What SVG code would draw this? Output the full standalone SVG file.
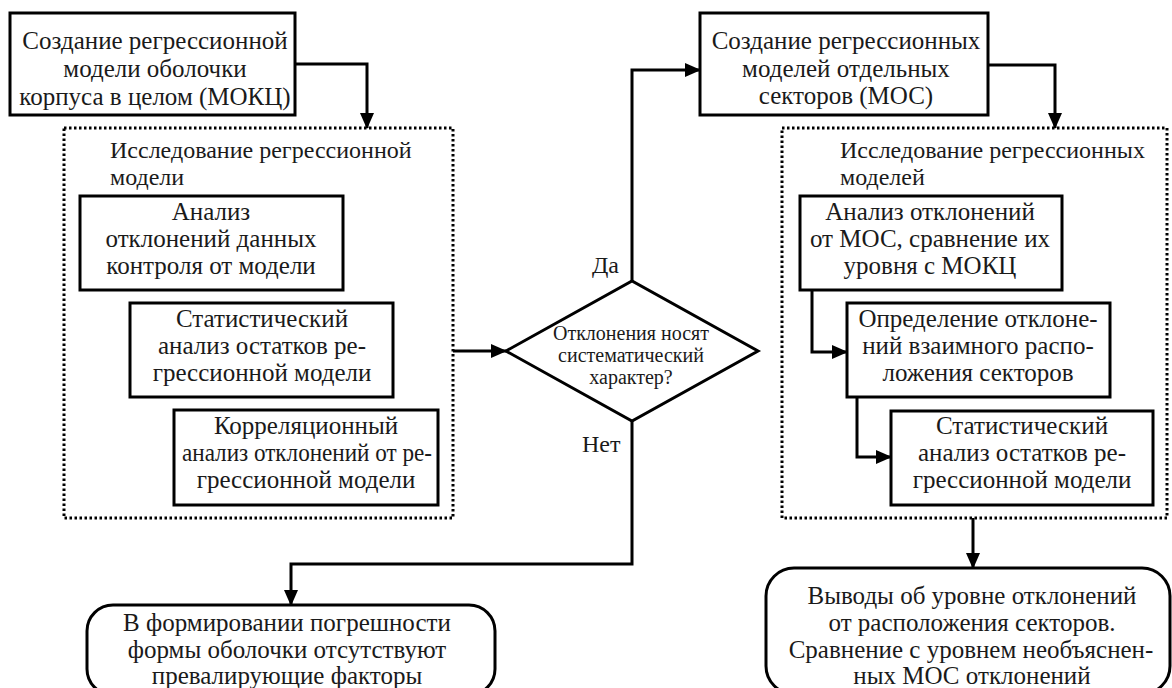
<svg xmlns="http://www.w3.org/2000/svg" width="1172" height="688" viewBox="0 0 1172 688">
<defs>
<marker id="ah" markerWidth="16" markerHeight="14" refX="15" refY="7" orient="auto" markerUnits="userSpaceOnUse">
<path d="M0,0 L16,7 L0,14 Z" fill="#000"/>
</marker>
<style>
.b{fill:#fff;stroke:#000;stroke-width:3}
.d{fill:none;stroke:#000;stroke-width:3;stroke-dasharray:2.5 2.5}
.c{fill:none;stroke:#000;stroke-width:3}
.m{text-anchor:middle}
.h{font-size:24px}
.s{font-size:20px}
</style>
</defs>
<rect width="1172" height="688" fill="#fff"/>
<g font-family="Liberation Serif, Times New Roman, DejaVu Serif, serif" font-size="25" fill="#1a1a1a">
<g id="groupL">
<rect class="d" x="64" y="128" width="389" height="390"/>
<text class="h" x="110" y="158">Исследование регрессионной</text>
<text class="h" x="110" y="185">модели</text>
</g>
<g id="groupR">
<rect class="d" x="782" y="128" width="385" height="390"/>
<text class="h" x="840" y="158">Исследование регрессионных</text>
<text class="h" x="840" y="185">моделей</text>
</g>
<g id="n1">
<rect class="b" x="10" y="13" width="285" height="102"/>
<text class="m" x="155" y="49">Создание регрессионной</text>
<text class="m" x="155" y="77">модели оболочки</text>
<text class="m" x="155" y="105">корпуса в целом (МОКЦ)</text>
</g>
<g id="n2">
<rect class="b" x="80" y="196" width="263" height="94"/>
<text class="m" x="211" y="220">Анализ</text>
<text class="m" x="211" y="247">отклонений данных</text>
<text class="m" x="211" y="274">контроля от модели</text>
</g>
<g id="n3">
<rect class="b" x="130" y="303" width="263" height="94"/>
<text class="m" x="262" y="327">Статистический</text>
<text class="m" x="262" y="354">анализ остатков ре-</text>
<text class="m" x="262" y="381">грессионной модели</text>
</g>
<g id="n4">
<rect class="b" x="174" y="410" width="264" height="95"/>
<text class="m" x="306" y="434">Корреляционный</text>
<text class="m" x="307" y="461" textLength="250" lengthAdjust="spacingAndGlyphs">анализ отклонений от ре-</text>
<text class="m" x="306" y="488">грессионной модели</text>
</g>
<g id="dec">
<polygon class="b" points="506,351 632,281 758,351 632,421"/>
<text class="m s" x="631" y="340">Отклонения носят</text>
<text class="m s" x="631" y="362">систематический</text>
<text class="m s" x="631" y="384">характер?</text>
</g>
<g id="n5">
<rect class="b" x="700" y="13" width="288" height="102"/>
<text class="m" x="846" y="49">Создание регрессионных</text>
<text class="m" x="846" y="77">моделей отдельных</text>
<text class="m" x="846" y="104">секторов (МОС)</text>
</g>
<g id="n6">
<rect class="b" x="800" y="196" width="262" height="94"/>
<text class="m" x="930" y="220">Анализ отклонений</text>
<text class="m" x="930" y="247">от МОС, сравнение их</text>
<text class="m" x="930" y="274">уровня с МОКЦ</text>
</g>
<g id="n7">
<rect class="b" x="847" y="303" width="263" height="94"/>
<text class="m" x="978" y="327">Определение отклоне-</text>
<text class="m" x="978" y="354">ний взаимного распо-</text>
<text class="m" x="978" y="381">ложения секторов</text>
</g>
<g id="n8">
<rect class="b" x="891" y="411" width="262" height="94"/>
<text class="m" x="1022" y="434">Статистический</text>
<text class="m" x="1022" y="461">анализ остатков ре-</text>
<text class="m" x="1022" y="488">грессионной модели</text>
</g>
<g id="t1">
<rect class="b" x="87" y="605" width="408" height="90" rx="26"/>
<text class="m" x="287" y="631">В формировании погрешности</text>
<text class="m" x="287" y="658">формы оболочки отсутствуют</text>
<text class="m" x="287" y="684">превалирующие факторы</text>
</g>
<g id="t2">
<rect class="b" x="766" y="568" width="404" height="126" rx="28"/>
<text class="m" x="972" y="604">Выводы об уровне отклонений</text>
<text class="m" x="972" y="631">от расположения секторов.</text>
<text class="m" x="971" y="658">Сравнение с уровнем необъяснен-</text>
<text class="m" x="972" y="684">ных МОС отклонений</text>
</g>
<g id="connectors">
<path class="c" d="M295,64 H367 V128" marker-end="url(#ah)"/>
<path class="c" d="M453,351 H506" marker-end="url(#ah)"/>
<path class="c" d="M632,281 V70 H700" marker-end="url(#ah)"/>
<path class="c" d="M988,65 H1055 V128" marker-end="url(#ah)"/>
<path class="c" d="M812,290 V352 H847" marker-end="url(#ah)"/>
<path class="c" d="M857,397 V457 H891" marker-end="url(#ah)"/>
<path class="c" d="M973,518 V568" marker-end="url(#ah)"/>
<path class="c" d="M632,421 V564 H291 V605" marker-end="url(#ah)"/>
<text class="h" x="592" y="273">Да</text>
<text class="h" x="582" y="452">Нет</text>
</g>
</g>
</svg>
